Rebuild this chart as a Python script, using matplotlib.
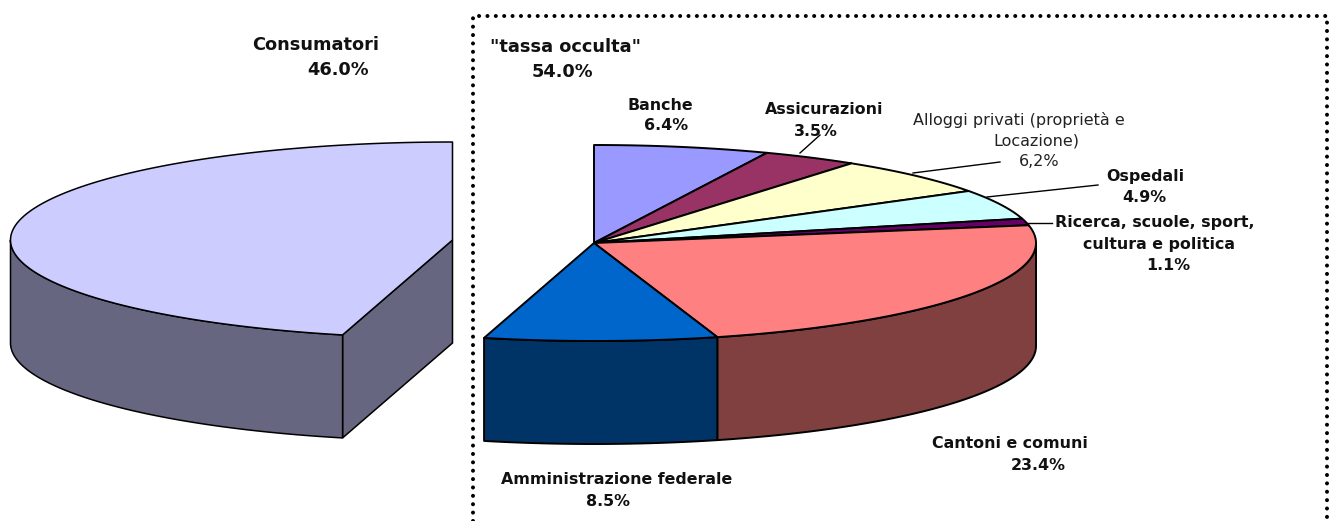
import numpy as np
import matplotlib
matplotlib.use("Agg")
import matplotlib.pyplot as plt
from matplotlib.patches import Polygon

W, H = 1329, 521

# --- data ---
left_values = [46.0]
left_top = ["#CCCCFF"]
left_side = ["#666680"]

right_names = ["Banche", "Assicurazioni", "Alloggi", "Ospedali", "Ricerca", "Cantoni", "Amministrazione"]
right_values = [6.4, 3.5, 6.2, 4.9, 1.1, 23.4, 8.5]
right_top = ["#9999FF", "#993366", "#FFFFCC", "#CCFFFF", "#660066", "#FF8080", "#0066CC"]
right_side = ["#4D4D80", "#4D1A33", "#808066", "#668080", "#330033", "#804040", "#003366"]

labels_header = [
    ("Consumatori", 316, 45), ("46.0%", 338, 70),
    ('"tassa occulta"', 566, 47), ("54.0%", 562, 72),
]
labels_bold = [
    ("Banche", 660, 105), ("6.4%", 666, 126),
    ("Assicurazioni", 824, 109), ("3.5%", 816, 131),
    ("Ospedali", 1145, 176), ("4.9%", 1144, 197),
    ("Ricerca, scuole, sport,", 1155, 223), ("cultura e politica", 1159, 244), ("1.1%", 1168, 265),
    ("Cantoni e comuni", 1010, 444), ("23.4%", 1038, 466),
    ("Amministrazione federale", 617, 479), ("8.5%", 608, 502),
]
labels_regular = [
    ("Alloggi privati (proprietà e", 1019, 120),
    ("Locazione)", 1036, 141),
    ("6,2%", 1039, 162),
]
leaders = [
    ((800, 153), (820, 135)),
    ((913, 173), (1000, 162)),
    ((987, 197), (1098, 185)),
    ((1027, 223), (1052, 223)),
]

# --- pie geometry ---
A, B, DEPTH = 442, 98, 103
LEFT_C = (452.5, 240)
RIGHT_C = (594, 243)
LW_LEFT = 1.1
LW_RIGHT = 1.4


def arc(center, p0, p1, n=200):
    """Rim points between two cumulative percentages, clockwise from the top."""
    th = np.linspace(p0, p1, n) / 100 * 2 * np.pi
    return np.column_stack((center[0] + A * np.sin(th), center[1] - B * np.cos(th)))


def draw_slice(ax, center, p0, p1, top, side, lw):
    c = np.array(center, float)
    down = np.array([0, DEPTH])
    rim = arc(center, p0, p1)
    lo, hi = max(p0, 25), min(p1, 75)
    if hi > lo:
        wall = arc(center, lo, hi)
        pts = np.vstack((wall, (wall + down)[::-1]))
        ax.add_patch(Polygon(pts, fc=side, ec="black", lw=lw, joinstyle="round", zorder=3))
    ax.add_patch(Polygon(np.vstack((c, rim)), fc=top, ec="black", lw=lw, joinstyle="round", zorder=4))


fig = plt.figure(figsize=(W / 100, H / 100), dpi=100, facecolor="white")
ax = fig.add_axes([0, 0, 1, 1])
ax.set_xlim(0, W)
ax.set_ylim(H, 0)
ax.axis("off")

# left slice runs counter-clockwise from the top; its cut face sits at the start of the rim
rim_start = arc(LEFT_C, 100 - left_values[0], 100)[0]
cc = np.array(LEFT_C)
ax.add_patch(Polygon(np.vstack((cc, rim_start, rim_start + [0, DEPTH], cc + [0, DEPTH])),
                     fc=left_side[0], ec="black", lw=LW_LEFT, zorder=2))
draw_slice(ax, LEFT_C, 100 - left_values[0], 100, left_top[0], left_side[0], LW_LEFT)

cum = np.concatenate(([0], np.cumsum(right_values)))
for i, name in enumerate(right_names):
    draw_slice(ax, RIGHT_C, cum[i], cum[i + 1], right_top[i], right_side[i], LW_RIGHT)

# dotted frame
frame_x = [472.5, 472.5, 1327, 1327]
frame_y = [H, 16, 16, H]
ax.plot(frame_x, frame_y, color="black", lw=2.9, linestyle=(0, (0.01, 2.07)),
        dash_capstyle="round", zorder=1)

for (x0, y0), (x1, y1) in leaders:
    ax.plot([x0, x1], [y0, y1], color="black", lw=1.0, zorder=5)

FONT = "DejaVu Sans"
for s, x, y in labels_header:
    ax.text(x, y, s, ha="center", va="center", fontsize=12.8, fontweight="bold",
            family=FONT, color="#111111", zorder=6)
for s, x, y in labels_bold:
    ax.text(x, y, s, ha="center", va="center", fontsize=11.4, fontweight="bold",
            family=FONT, color="#111111", zorder=6)
for s, x, y in labels_regular:
    ax.text(x, y, s, ha="center", va="center", fontsize=11.5, family=FONT,
            color="#222222", zorder=6)

fig.savefig("out.png", dpi=100)
